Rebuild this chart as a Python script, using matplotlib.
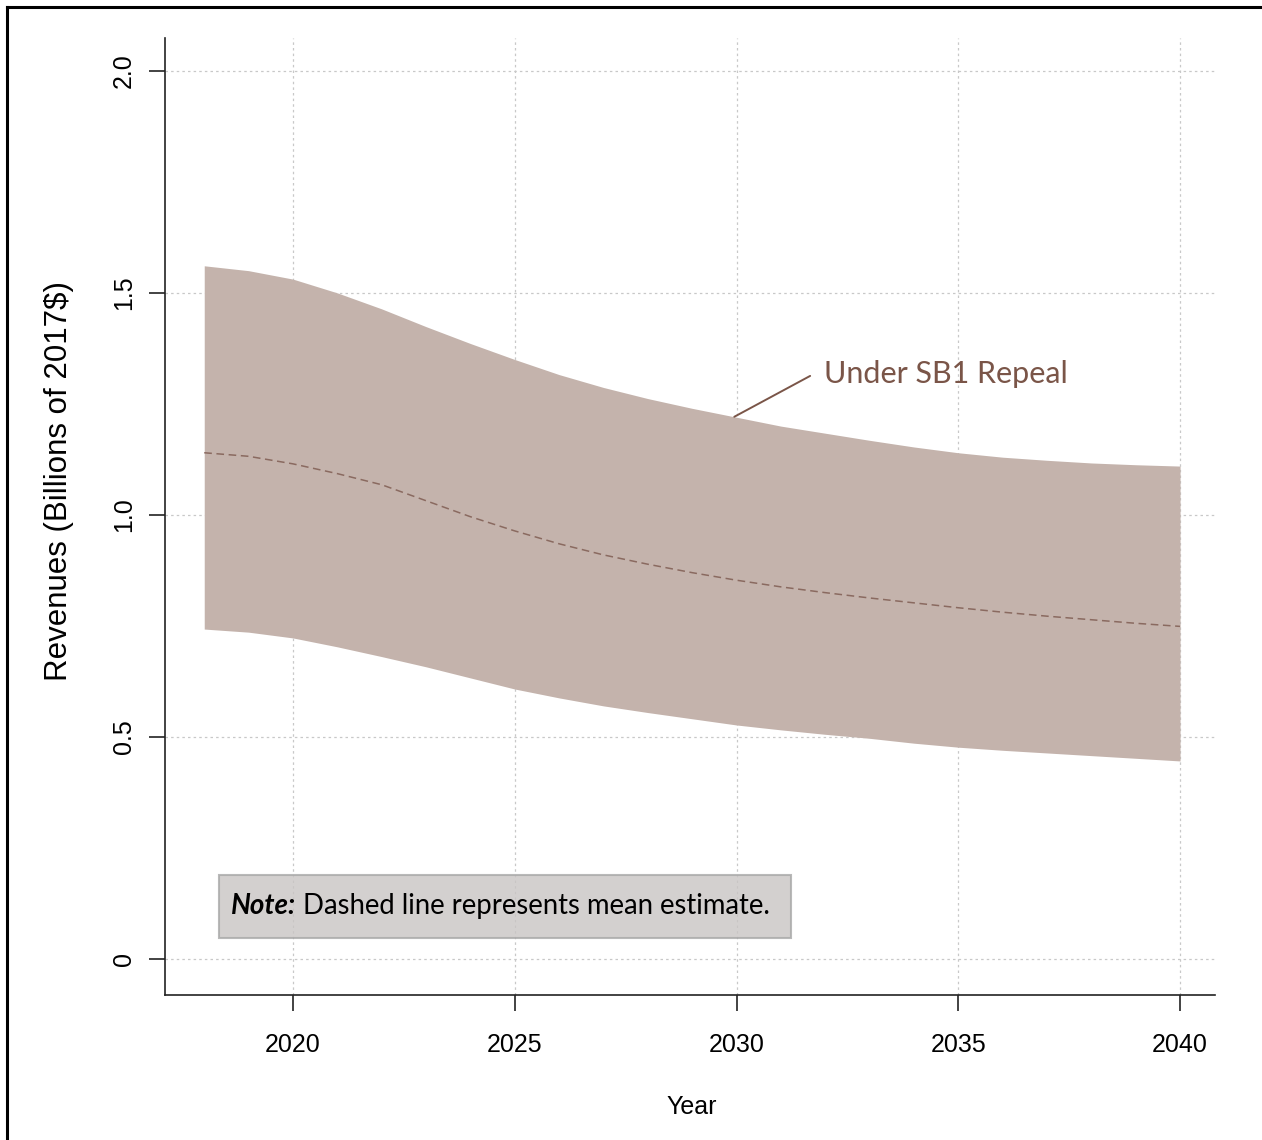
import numpy as np
import matplotlib.pyplot as plt
from matplotlib.lines import Line2D
from matplotlib.patches import Rectangle

# values (billions of 2017$)
years = np.arange(2018, 2041)
upper = [1.561, 1.550, 1.531, 1.500, 1.464, 1.424, 1.386, 1.350, 1.316, 1.287,
         1.262, 1.240, 1.220, 1.200, 1.184, 1.168, 1.153, 1.140, 1.130, 1.123,
         1.117, 1.113, 1.110]
mean = [1.140, 1.132, 1.115, 1.093, 1.068, 1.032, 0.996, 0.964, 0.935, 0.910,
        0.889, 0.870, 0.853, 0.838, 0.825, 0.813, 0.802, 0.791, 0.781, 0.772,
        0.764, 0.756, 0.749]
lower = [0.743, 0.736, 0.723, 0.703, 0.681, 0.658, 0.633, 0.608, 0.588, 0.570,
         0.555, 0.541, 0.527, 0.516, 0.506, 0.497, 0.486, 0.477, 0.470, 0.464,
         0.458, 0.452, 0.446]

x_ticks = [2020, 2025, 2030, 2035, 2040]
y_ticks = [0, 0.5, 1.0, 1.5, 2.0]
y_tick_labels = ["0", "0.5", "1.0", "1.5", "2.0"]

band_label = "Under SB1 Repeal"
note_bold = "Note:"
note_rest = " Dashed line represents mean estimate."

FILL = "#c4b3ac"
DARK = "#7a5548"
TICK_FONT = ["Liberation Sans", "DejaVu Sans"]
TEXT_FONT = ["Lato", "DejaVu Sans"]

fig = plt.figure(figsize=(12.62, 11.40), dpi=100)
ax = fig.add_axes([0.1307, 0.1272, 0.8321, 0.8395])

ax.fill_between(years, lower, upper, color=FILL, lw=0, zorder=2)
ax.plot(years, mean, color="#8a6a60", lw=1.1, ls=(0, (5, 3)), zorder=3)

ax.set_xlim(2017.114, 2040.789)
ax.set_ylim(-0.081, 2.074)

# dotted R-style grid
for xv in x_ticks:
    ax.axvline(xv, color="#c8c8c8", lw=0.9, ls=(0, (2, 2.5)), zorder=1)
for yv in y_ticks:
    ax.axhline(yv, color="#c8c8c8", lw=0.9, ls=(0, (2, 2.5)), zorder=1)

for side in ["top", "right"]:
    ax.spines[side].set_visible(False)
for side in ["left", "bottom"]:
    ax.spines[side].set_color("#222222")
    ax.spines[side].set_linewidth(1.2)

ax.set_xticks(x_ticks)
ax.set_xticklabels([str(v) for v in x_ticks], family=TICK_FONT, fontsize=18)
ax.set_yticks(y_ticks)
ax.set_yticklabels(y_tick_labels, family=TICK_FONT, fontsize=18,
                   rotation=90, va="center")
ax.tick_params(axis="x", length=11.5, width=1.2, color="#222222", pad=16)
ax.tick_params(axis="y", length=11.5, width=1.2, color="#222222", pad=9.5)

ax.set_xlabel("Year", family=TICK_FONT, fontsize=18)
ax.xaxis.set_label_coords(0.502, -0.104)
ax.set_ylabel("Revenues (Billions of 2017$)", family=TICK_FONT, fontsize=22.5)
ax.yaxis.set_label_coords(-0.087, 0.537)

# band label with leader line
ax.annotate("", xy=(2029.95, 1.221), xytext=(2031.66, 1.313),
            arrowprops=dict(arrowstyle="-", color=DARK, lw=1.4,
                            shrinkA=0, shrinkB=0), zorder=4)
ax.text(2031.97, 1.318, band_label, family=TEXT_FONT, fontsize=22,
        color=DARK, ha="left", va="center", zorder=4)

# note box
box = Rectangle((0.0514, 0.0596), 0.5446, 0.0658, transform=ax.transAxes,
                facecolor="#c9c5c4", edgecolor="#a8a8a8", lw=1.5,
                alpha=0.8, zorder=5)
ax.add_patch(box)
t1 = ax.text(0.063, 0.0925, note_bold, transform=ax.transAxes,
             family=TEXT_FONT, fontsize=20, weight="bold", style="italic",
             ha="left", va="center", zorder=6)
ax.annotate(note_rest, xy=(1, 0), xycoords=t1, va="bottom", ha="left",
            family=TEXT_FONT, fontsize=19.8, zorder=6)

# partial outer frame (left and top edges)
fig.add_artist(Line2D([0.0059, 0.0059], [0, 0.9938], color="black", lw=2.2,
                      transform=fig.transFigure))
fig.add_artist(Line2D([0.0059, 1.0], [0.9938, 0.9938], color="black", lw=2.2,
                      transform=fig.transFigure))

fig.savefig("out.png", dpi=100)
